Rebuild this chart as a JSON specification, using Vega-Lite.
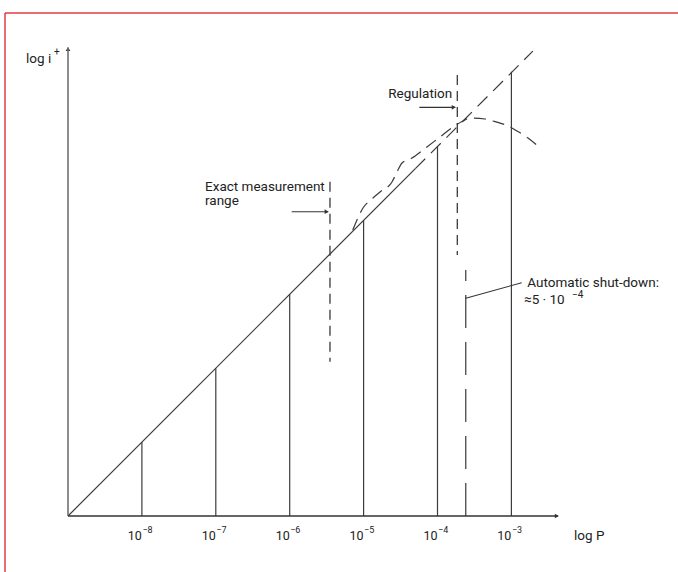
{
  "$schema": "https://vega.github.io/schema/vega-lite/v6.json",
  "width": 673,
  "height": 559,
  "autosize": "none",
  "padding": {"left": 5, "top": 13, "right": 0, "bottom": 0},
  "background": "white",
  "config": {
    "view": {"stroke": null},
    "text": {"font": "Roboto", "color": "#222222"}
  },
  "datasets": {
    "verticals": [
      {"p": -8, "lo": -9, "hi": -8},
      {"p": -7, "lo": -9, "hi": -7},
      {"p": -6, "lo": -9, "hi": -6},
      {"p": -5, "lo": -9, "hi": -5},
      {"p": -4, "lo": -9, "hi": -4},
      {"p": -3, "lo": -9, "hi": -2.99}
    ],
    "curve": [
      {"i": 0, "x": -5.147, "y": -5.130},
      {"i": 1, "x": -5.008, "y": -4.832},
      {"i": 2, "x": -4.873, "y": -4.697},
      {"i": 3, "x": -4.778, "y": -4.616},
      {"i": 4, "x": -4.616, "y": -4.480},
      {"i": 5, "x": -4.548, "y": -4.345},
      {"i": 6, "x": -4.480, "y": -4.223},
      {"i": 7, "x": -4.345, "y": -4.156},
      {"i": 8, "x": -4.196, "y": -4.047},
      {"i": 9, "x": -3.966, "y": -3.871},
      {"i": 10, "x": -3.790, "y": -3.736},
      {"i": 11, "x": -3.655, "y": -3.655},
      {"i": 12, "x": -3.560, "y": -3.614},
      {"i": 13, "x": -3.357, "y": -3.628},
      {"i": 14, "x": -3.249, "y": -3.655},
      {"i": 15, "x": -3.046, "y": -3.723},
      {"i": 16, "x": -2.924, "y": -3.790},
      {"i": 17, "x": -2.775, "y": -3.885},
      {"i": 18, "x": -2.613, "y": -4.020}
    ],
    "ticks": [
      {"p": -8, "base": "10", "sup": "−8"},
      {"p": -7, "base": "10", "sup": "−7"},
      {"p": -6, "base": "10", "sup": "−6"},
      {"p": -5, "base": "10", "sup": "−5"},
      {"p": -4, "base": "10", "sup": "−4"},
      {"p": -3, "base": "10", "sup": "−3"}
    ],
    "texts": [
      {"x": -9.568, "y": -2.870, "t": "log i"},
      {"x": -2.153, "y": -9.325, "t": "log P"},
      {"x": -7.146, "y": -4.598, "t": "Exact measurement"},
      {"x": -7.146, "y": -4.792, "t": "range"},
      {"x": -4.666, "y": -3.348, "t": "Regulation"},
      {"x": -2.785, "y": -5.897, "t": "Automatic shut-down:"},
      {"x": -2.829, "y": -6.131, "t": "≈5 · 10"}
    ],
    "sups": [
      {"x": -9.189, "y": -2.762, "t": "+"},
      {"x": -2.180, "y": -6.045, "t": "−4"}
    ]
  },
  "encoding": {
    "x": {"type": "quantitative", "scale": {"domain": [-9.8525, -0.7456], "nice": false, "zero": false}, "axis": null},
    "y": {"type": "quantitative", "scale": {"domain": [-9.7578, -2.1935], "nice": false, "zero": false}, "axis": null}
  },
  "layer": [
    {
      "data": {"values": [{"a": -9.8525, "b": -0.7456, "c": -2.1935}]},
      "mark": {"type": "rule", "color": "#e23b44", "strokeWidth": 1.5},
      "encoding": {"x": {"field": "a", "type": "quantitative"}, "x2": {"field": "b"}, "y": {"field": "c", "type": "quantitative"}}
    },
    {
      "data": {"values": [{"a": -9.8525, "b": -2.1935, "c": -9.7578}]},
      "mark": {"type": "rule", "color": "#e23b44", "strokeWidth": 1.5},
      "encoding": {"x": {"field": "a", "type": "quantitative"}, "y": {"field": "b", "type": "quantitative"}, "y2": {"field": "c"}}
    },
    {
      "data": {"name": "verticals"},
      "mark": {"type": "rule", "color": "#3c3c3c", "strokeWidth": 1.2},
      "encoding": {"x": {"field": "p", "type": "quantitative"}, "y": {"field": "lo", "type": "quantitative"}, "y2": {"field": "hi"}}
    },
    {
      "data": {"values": [{"x1": -9, "y1": -9, "x2": -4.30, "y2": -4.30}]},
      "mark": {"type": "rule", "color": "#3a3a3a", "strokeWidth": 1.2},
      "encoding": {"x": {"field": "x1", "type": "quantitative"}, "y": {"field": "y1", "type": "quantitative"}, "x2": {"field": "x2"}, "y2": {"field": "y2"}}
    },
    {
      "data": {"values": [{"x1": -4.30, "y1": -4.30, "x2": -2.71, "y2": -2.71}]},
      "mark": {"type": "rule", "color": "#3a3a3a", "strokeWidth": 1.2, "strokeDash": [14, 8]},
      "encoding": {"x": {"field": "x1", "type": "quantitative"}, "y": {"field": "y1", "type": "quantitative"}, "x2": {"field": "x2"}, "y2": {"field": "y2"}}
    },
    {
      "data": {"name": "curve"},
      "mark": {"type": "line", "color": "#3a3a3a", "strokeWidth": 1.2, "strokeDash": [12, 7], "interpolate": "monotone"},
      "encoding": {"x": {"field": "x", "type": "quantitative"}, "y": {"field": "y", "type": "quantitative"}, "order": {"field": "i", "type": "quantitative"}}
    },
    {
      "data": {"values": [
        {"x1": -5.455, "y1": -4.476, "y2": -6.912},
        {"x1": -3.732, "y1": -3.032, "y2": -5.468}
      ]},
      "mark": {"type": "rule", "color": "#3a3a3a", "strokeWidth": 1.3, "strokeDash": [10, 6]},
      "encoding": {"x": {"field": "x1", "type": "quantitative"}, "y": {"field": "y1", "type": "quantitative"}, "y2": {"field": "y2"}}
    },
    {
      "data": {"values": [{"x1": -3.618, "y1": -9, "y2": -5.671}]},
      "mark": {"type": "rule", "color": "#555555", "strokeWidth": 1.4, "strokeDash": [33, 14]},
      "encoding": {"x": {"field": "x1", "type": "quantitative"}, "y": {"field": "y1", "type": "quantitative"}, "y2": {"field": "y2"}}
    },
    {
      "data": {"values": [
        {"x1": -3.618, "y1": -6.054, "x2": -2.861, "y2": -5.843}
      ]},
      "mark": {"type": "rule", "color": "#333333", "strokeWidth": 1.1},
      "encoding": {"x": {"field": "x1", "type": "quantitative"}, "y": {"field": "y1", "type": "quantitative"}, "x2": {"field": "x2"}, "y2": {"field": "y2"}}
    },
    {
      "data": {"values": [
        {"x1": -5.973, "x2": -5.48, "y1": -4.882},
        {"x1": -4.246, "x2": -3.76, "y1": -3.470}
      ]},
      "mark": {"type": "rule", "color": "#333333", "strokeWidth": 1.1},
      "encoding": {"x": {"field": "x1", "type": "quantitative"}, "x2": {"field": "x2"}, "y": {"field": "y1", "type": "quantitative"}}
    },
    {
      "data": {"values": [{"x": -5.50, "y": -4.882}, {"x": -3.78, "y": -3.470}, {"x": -2.385, "y": -9}]},
      "mark": {"type": "point", "shape": "triangle-right", "filled": true, "color": "#333333", "size": 22, "opacity": 1},
      "encoding": {"x": {"field": "x", "type": "quantitative"}, "y": {"field": "y", "type": "quantitative"}}
    },
    {
      "data": {"values": [{"x": -9, "y": -2.68}]},
      "mark": {"type": "point", "shape": "triangle-up", "filled": true, "color": "#333333", "size": 22, "opacity": 1},
      "encoding": {"x": {"field": "x", "type": "quantitative"}, "y": {"field": "y", "type": "quantitative"}}
    },
    {
      "data": {"values": [{"x1": -9, "y1": -9, "y2": -2.66}]},
      "mark": {"type": "rule", "color": "#707070", "strokeWidth": 1.6},
      "encoding": {"x": {"field": "x1", "type": "quantitative"}, "y": {"field": "y1", "type": "quantitative"}, "y2": {"field": "y2"}}
    },
    {
      "data": {"values": [{"x1": -9, "y1": -9, "x2": -2.37}]},
      "mark": {"type": "rule", "color": "#333333", "strokeWidth": 1.4},
      "encoding": {"x": {"field": "x1", "type": "quantitative"}, "x2": {"field": "x2"}, "y": {"field": "y1", "type": "quantitative"}}
    },
    {
      "data": {"name": "ticks"},
      "mark": {"type": "text", "fontSize": 12.5, "align": "right", "baseline": "alphabetic"},
      "encoding": {"x": {"field": "p", "type": "quantitative"}, "y": {"datum": -9.325}, "text": {"field": "base"}}
    },
    {
      "data": {"name": "ticks"},
      "mark": {"type": "text", "fontSize": 9, "align": "left", "baseline": "alphabetic", "dx": 0.5},
      "encoding": {"x": {"field": "p", "type": "quantitative"}, "y": {"datum": -9.23}, "text": {"field": "sup"}}
    },
    {
      "data": {"name": "texts"},
      "mark": {"type": "text", "fontSize": 13.5, "align": "left", "baseline": "alphabetic"},
      "encoding": {"x": {"field": "x", "type": "quantitative"}, "y": {"field": "y", "type": "quantitative"}, "text": {"field": "t"}}
    },
    {
      "data": {"name": "sups"},
      "mark": {"type": "text", "fontSize": 10, "align": "left", "baseline": "alphabetic"},
      "encoding": {"x": {"field": "x", "type": "quantitative"}, "y": {"field": "y", "type": "quantitative"}, "text": {"field": "t"}}
    }
  ]
}
